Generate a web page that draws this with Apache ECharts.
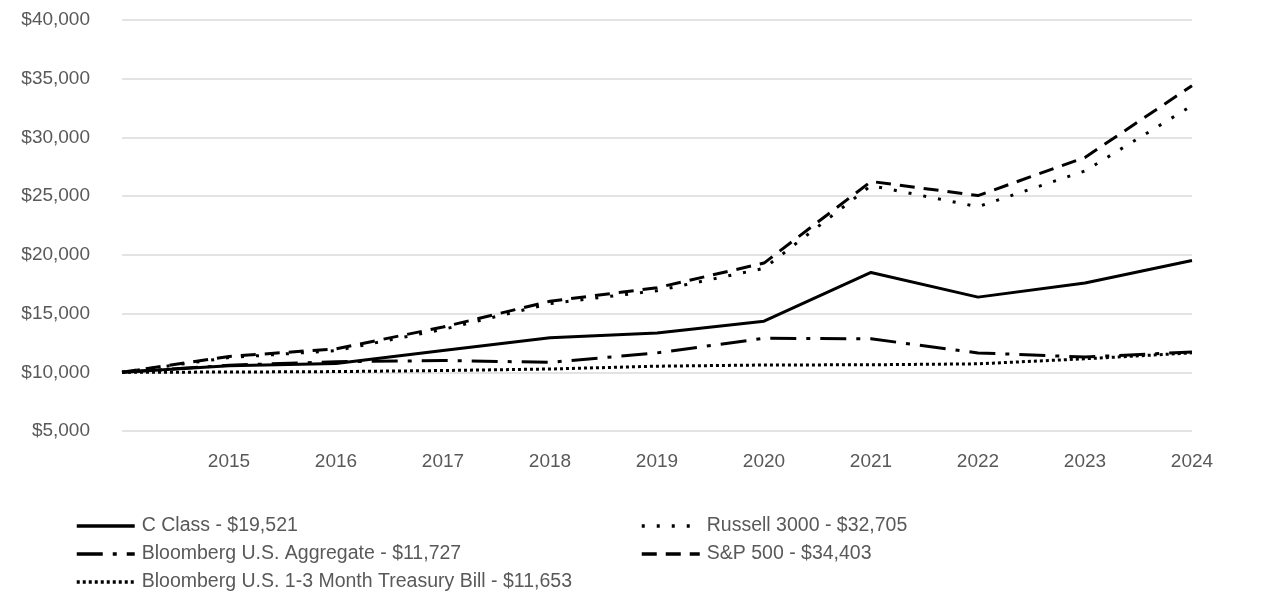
<!DOCTYPE html>
<html>
<head>
<meta charset="utf-8">
<script src="https://cdn.jsdelivr.net/npm/echarts@6/dist/echarts.min.js"></script>
<style>
html,body{margin:0;padding:0;background:#fff;}
#chart{width:1286px;height:614px;}
</style>
</head>
<body>
<div id="chart"></div>
<script>
const years = ['2014','2015','2016','2017','2018','2019','2020','2021','2022','2023','2024'];
const cClass = [10000, 10550, 10750, 11850, 12950, 13350, 14350, 18500, 16400, 17600, 19521];
const russell3000 = [10000, 11250, 11850, 13650, 15850, 16950, 18850, 25900, 24100, 27150, 32705];
const sp500 = [10000, 11350, 12000, 13850, 16050, 17200, 19300, 26250, 25050, 28300, 34403];
const aggregate = [10000, 10600, 10900, 11000, 10850, 11650, 12900, 12850, 11650, 11300, 11727];
const tbill = [10000, 10020, 10060, 10150, 10280, 10520, 10620, 10640, 10720, 11150, 11653];
const seriesNames = [
  'C Class - $19,521',
  'Russell 3000 - $32,705',
  'Bloomberg U.S. Aggregate - $11,727',
  'S&P 500 - $34,403',
  'Bloomberg U.S. 1-3 Month Treasury Bill - $11,653'
];
const yTicks = {min: 5000, max: 40000, interval: 5000};

const font = '"Liberation Sans", Arial, sans-serif';
const textColor = '#595959';
const chart = echarts.init(document.getElementById('chart'));

function line(name, data, dash) {
  return {
    name: name, type: 'line', data: data, symbol: 'none', smooth: false,
    lineStyle: {color: '#000', width: 3, type: dash, cap: 'butt'},
    itemStyle: {color: '#000'},
    emphasis: {disabled: true}
  };
}

const legendCommon = {
  orient: 'vertical', itemWidth: 58, itemHeight: 14, itemGap: 8,
  textStyle: {color: textColor, fontSize: 19.5, fontFamily: font, padding: [0,0,0,2]},
  itemStyle: {color: 'transparent', opacity: 0, borderWidth: 0},
  lineStyle: {width: 3.5},
  selectedMode: false
};

chart.setOption({
  animation: false,
  grid: {left: 122, right: 94, top: 20, bottom: 183},
  legend: [
    Object.assign({}, legendCommon, {left: 70, top: 511, data: [seriesNames[0], seriesNames[2], seriesNames[4]]}),
    Object.assign({}, legendCommon, {left: 635, top: 511, data: [seriesNames[1], seriesNames[3]]})
  ],
  xAxis: {
    type: 'category', data: years, boundaryGap: false,
    axisLine: {show: false}, axisTick: {show: false},
    axisLabel: {color: textColor, fontSize: 19, fontFamily: font, margin: 21,
      formatter: function (v, i) { return i === 0 ? '' : v; }, interval: 0}
  },
  yAxis: {
    type: 'value', min: yTicks.min, max: yTicks.max, interval: yTicks.interval,
    axisLine: {show: false}, axisTick: {show: false},
    splitLine: {lineStyle: {color: '#e3e3e3', width: 2}},
    axisLabel: {color: textColor, fontSize: 19, fontFamily: font, margin: 32,
      formatter: function (v) { return '$' + v.toLocaleString('en-US'); }}
  },
  series: [
    line(seriesNames[0], cClass, 'solid'),
    line(seriesNames[1], russell3000, [3, 12]),
    line(seriesNames[2], aggregate, [26, 10, 4, 10]),
    line(seriesNames[3], sp500, [15, 9]),
    line(seriesNames[4], tbill, [3, 3])
  ]
});
</script>
</body>
</html>
